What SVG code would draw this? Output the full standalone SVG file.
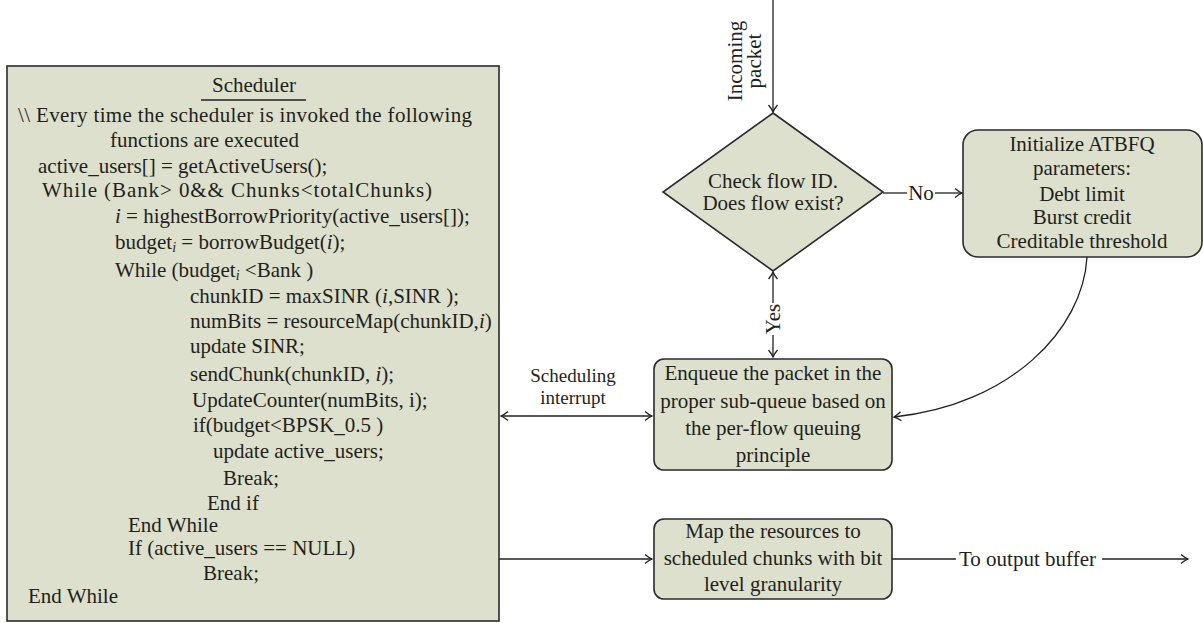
<svg xmlns="http://www.w3.org/2000/svg" width="1203" height="623" viewBox="0 0 1203 623">
<style>
  text { font-family: "Liberation Serif", "Times New Roman", serif; font-size: 21px; fill: #231f20; }
  .c { text-anchor: middle; }
  .it { font-style: italic; }
  .sub { font-style: italic; font-size: 14px; }
  .lbl { font-size: 19px; }
  .box { fill: #dde0cc; stroke: #2b2b2b; stroke-width: 1.6; }
  .conn { fill: none; stroke: #231f20; stroke-width: 1.3; }
</style>
<defs>
  <marker id="arr" markerUnits="userSpaceOnUse" markerWidth="12" markerHeight="12" viewBox="-8 -6 10 12" refX="0" refY="0" orient="auto-start-reverse" overflow="visible">
    <path d="M-7,-4.5 C-4,-2 -1.5,-0.6 0,0 C-1.5,0.6 -4,2 -7,4.5" fill="none" stroke="#231f20" stroke-width="1.3"/>
  </marker>
</defs>

<g id="scheduler">
  <rect class="box" x="7" y="66" width="492" height="555"/>
  <text class="c" x="254" y="92">Scheduler</text>
  <line x1="201" y1="100" x2="306" y2="100" stroke="#231f20" stroke-width="1.3"/>
  <text x="18" y="122" textLength="454" lengthAdjust="spacing">\\ Every time the scheduler is invoked the following</text>
  <text x="110" y="147">functions are executed</text>
  <text x="38" y="173">active_users[] = getActiveUsers();</text>
  <text x="42" y="197" textLength="390" lengthAdjust="spacing">While (Bank&gt; 0&amp;&amp; Chunks&lt;totalChunks)</text>
  <text x="115" y="223"><tspan class="it">i</tspan> = highestBorrowPriority(active_users[]);</text>
  <text x="115" y="249">budget<tspan class="sub" dy="3">i</tspan><tspan dy="-3"> = borrowBudget(</tspan><tspan class="it">i</tspan>);</text>
  <text x="115" y="277">While (budget<tspan class="sub" dy="3">i</tspan><tspan dy="-3"> &lt;Bank )</tspan></text>
  <text x="190" y="303">chunkID = maxSINR (<tspan class="it">i</tspan>,SINR );</text>
  <text x="190" y="328">numBits = resourceMap(chunkID,<tspan class="it">i</tspan>)</text>
  <text x="190" y="353">update SINR;</text>
  <text x="190" y="381">sendChunk(chunkID, <tspan class="it">i</tspan>);</text>
  <text x="192" y="407">UpdateCounter(numBits, i);</text>
  <text x="193" y="432">if(budget&lt;BPSK_0.5 )</text>
  <text x="213" y="458">update active_users;</text>
  <text x="223" y="485">Break;</text>
  <text x="207" y="510">End if</text>
  <text x="128" y="532">End While</text>
  <text x="128" y="555">If (active_users == NULL)</text>
  <text x="203" y="580">Break;</text>
  <text x="28" y="603">End While</text>
</g>

<g id="check-flow">
  <polygon class="box" points="773,113 883,192 773,271 663,192"/>
  <text class="c" x="773" y="188">Check flow ID.</text>
  <text class="c" x="773" y="210">Does flow exist?</text>
</g>

<g id="initialize">
  <rect class="box" x="963" y="130" width="239" height="127" rx="15"/>
  <text class="c" x="1082" y="151">Initialize ATBFQ</text>
  <text class="c" x="1082" y="175">parameters:</text>
  <text class="c" x="1082" y="201">Debt limit</text>
  <text class="c" x="1082" y="224">Burst credit</text>
  <text class="c" x="1082" y="248">Creditable threshold</text>
</g>

<g id="enqueue">
  <rect class="box" x="654" y="359" width="238" height="111" rx="10"/>
  <text class="c" x="773" y="380">Enqueue the packet in the</text>
  <text class="c" x="773" y="408">proper sub-queue based on</text>
  <text class="c" x="773" y="435">the per-flow queuing</text>
  <text class="c" x="773" y="462">principle</text>
</g>

<g id="map">
  <rect class="box" x="654" y="519" width="238" height="80" rx="10"/>
  <text class="c" x="773" y="538">Map the resources to</text>
  <text class="c" x="773" y="565">scheduled chunks with bit</text>
  <text class="c" x="773" y="591">level granularity</text>
</g>

<g id="connectors">
  <path class="conn" d="M773,0 V112" marker-end="url(#arr)"/>
  <text class="c" transform="translate(742,61) rotate(-90)">Incoming</text>
  <text class="c" transform="translate(761,61) rotate(-90)">packet</text>

  <path class="conn" d="M883,193 H907"/>
  <text class="c" x="921" y="200">No</text>
  <path class="conn" d="M935,193 H962" marker-end="url(#arr)"/>

  <path class="conn" d="M773,303 V272" marker-end="url(#arr)"/>
  <path class="conn" d="M773,335 V357" marker-end="url(#arr)"/>
  <text class="c" transform="translate(780,319) rotate(-90)">Yes</text>

  <path class="conn" d="M1087,257 C1083,330 1010,405 894,417" marker-end="url(#arr)"/>

  <path class="conn" d="M501,416 H652" marker-start="url(#arr)" marker-end="url(#arr)"/>
  <text class="c lbl" x="573" y="382">Scheduling</text>
  <text class="c lbl" x="573" y="404">interrupt</text>

  <path class="conn" d="M499,559 H652" marker-end="url(#arr)"/>

  <path class="conn" d="M892,559 H956"/>
  <text x="959" y="566">To output buffer</text>
  <path class="conn" d="M1102,559 H1188" marker-end="url(#arr)"/>
</g>
</svg>
